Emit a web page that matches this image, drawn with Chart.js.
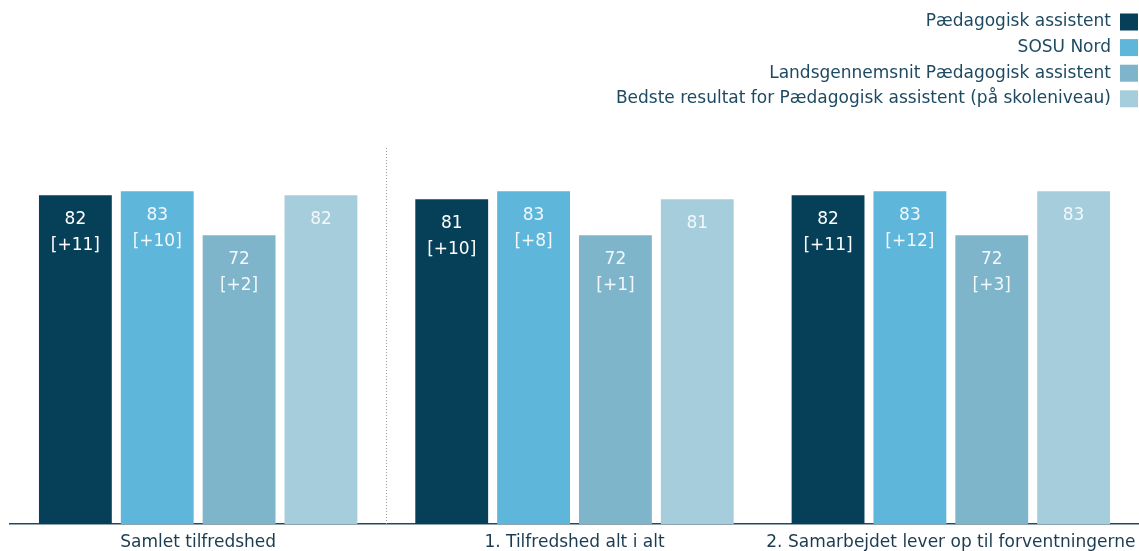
<!DOCTYPE html>
<html>
<head>
<meta charset="utf-8">
<script src="https://cdn.jsdelivr.net/npm/chart.js@4/dist/chart.umd.min.js"></script>
<style>
  body { margin: 0; background: #fff; }
  #wrap { width: 1139px; height: 551px; position: relative; }
</style>
</head>
<body>
<div id="wrap"><canvas id="myChart"></canvas></div>
<script>
// categories and series
var Categories = ['Samlet tilfredshed', '1. Tilfredshed alt i alt', '2. Samarbejdet lever op til forventningerne'];
var SeriesNames = ['Pædagogisk assistent', 'SOSU Nord', 'Landsgennemsnit Pædagogisk assistent', 'Bedste resultat for Pædagogisk assistent (på skoleniveau)'];
var PaedValues = [82, 81, 82];
var SosuValues = [83, 83, 83];
var LandsValues = [72, 72, 72];
var BedsteValues = [82, 81, 83];
var PaedDiff = ['[+11]', '[+10]', '[+11]'];
var SosuDiff = ['[+10]', '[+8]', '[+12]'];
var LandsDiff = ['[+2]', '[+1]', '[+3]'];
var BedsteDiff = ['', '', ''];

const COLORS = ['#053f58', '#5eb6db', '#7eb5ca', '#a6cddc'];
const FONT = 'DejaVu Sans';

function makeSet(i, data, diffs)
{
  return {
    label: SeriesNames[i],
    data: data,
    diffs: diffs,
    backgroundColor: COLORS[i],
    borderWidth: 0,
    categoryPercentage: 0.87,
    barPercentage: 0.89
  };
}

// value + [diff] written inside the top of each bar
const barLabels = {
  id: 'barLabels',
  afterDatasetsDraw(chart) {
    const c = chart.ctx;
    c.save();
    c.textAlign = 'center';
    c.textBaseline = 'middle';
    chart.data.datasets.forEach(function(ds, i) {
      const meta = chart.getDatasetMeta(i);
      meta.data.forEach(function(bar, j) {
        c.fillStyle = i == 0 ? '#ffffff' : '#f2f8fb';
        c.font = '17px "' + FONT + '"';
        c.fillText(String(ds.data[j]), bar.x, bar.y + 24);
        if(ds.diffs[j] != '')
        {
          c.fillText(ds.diffs[j], bar.x, bar.y + 50);
        }
      });
    });
    c.restore();
  }
};

// dotted separator after the first group
const separator = {
  id: 'separator',
  beforeDatasetsDraw(chart) {
    const c = chart.ctx;
    const x = Math.round(chart.scales.x.getPixelForValue(0.5)) + 0.5;
    c.save();
    c.strokeStyle = '#9a9a9a';
    c.lineWidth = 1;
    c.setLineDash([1, 2]);
    c.beginPath();
    c.moveTo(x, 148);
    c.lineTo(x, chart.chartArea.bottom);
    c.stroke();
    c.restore();
  }
};

// legend at top right, boxes right of the text
const rightLegend = {
  id: 'rightLegend',
  afterDraw(chart) {
    const c = chart.ctx;
    c.save();
    c.font = '17px "' + FONT + '"';
    c.textAlign = 'right';
    c.textBaseline = 'middle';
    chart.data.datasets.forEach(function(ds, i) {
      const y = 22 + i * 25.6;
      c.fillStyle = '#1d4a62';
      c.fillText(ds.label, 1111, y);
      c.fillStyle = COLORS[i];
      c.fillRect(1120, y - 8.5, 18, 17);
    });
    c.restore();
  }
};

const ctx = document.getElementById('myChart');
const myChart = new Chart(ctx, {
  type: 'bar',
  data: {
    labels: Categories,
    datasets: [
      makeSet(0, PaedValues, PaedDiff),
      makeSet(1, SosuValues, SosuDiff),
      makeSet(2, LandsValues, LandsDiff),
      makeSet(3, BedsteValues, BedsteDiff)
    ]
  },
  options: {
    responsive: true,
    maintainAspectRatio: false,
    animation: false,
    layout: { padding: { top: 123, left: 10, right: 0, bottom: 0 } },
    plugins: {
      legend: { display: false },
      tooltip: { enabled: false }
    },
    scales: {
      x: {
        grid: { display: false, drawTicks: true, tickLength: 8 },
        border: { color: '#1f4a60', width: 1.5 },
        ticks: { color: '#1b3c50', font: { family: FONT, size: 17 }, padding: 0, maxRotation: 0 },
        afterFit: function(axis) { axis.height = 27; }
      },
      y: {
        display: false,
        min: 0,
        max: 100
      }
    }
  },
  plugins: [barLabels, separator, rightLegend]
});
</script>
</body>
</html>
